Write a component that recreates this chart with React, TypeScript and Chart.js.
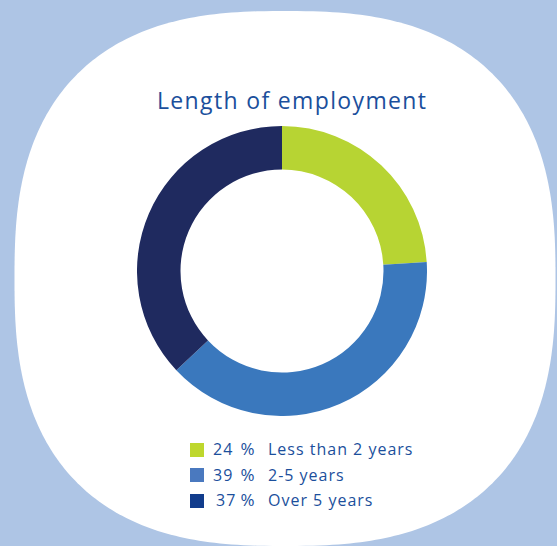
import React, { useEffect, useRef } from "react";
import { Chart, registerables } from "chart.js";

Chart.register(...registerables);

const TITLE = "Length of employment";
const categories = ["Less than 2 years", "2-5 years", "Over 5 years"];
const values = [24, 39, 37];
const percentNumbers = ["24", "39", "37"];
const sliceColors = ["#b7d433", "#3a78bd", "#1f2a5f"];
const legendColors = ["#bed72d", "#4a79bf", "#113c8c"];

const BG = "#aec5e5";
const TEXT = "#1b4f9c";
const FONT = "'Open Sans', 'Noto Sans', sans-serif";

function blobPath(cx: number, cy: number, a: number, b: number, n: number) {
  const pts: string[] = [];
  const N = 360;
  for (let i = 0; i < N; i++) {
    const t = (i / N) * Math.PI * 2;
    const c = Math.cos(t);
    const s = Math.sin(t);
    const x = cx + a * Math.sign(c) * Math.pow(Math.abs(c), 2 / n);
    const y = cy + b * Math.sign(s) * Math.pow(Math.abs(s), 2 / n);
    pts.push(`${x.toFixed(2)},${y.toFixed(2)}`);
  }
  return "M" + pts.join("L") + "Z";
}

export default function App() {
  const ref = useRef<HTMLCanvasElement | null>(null);

  useEffect(() => {
    if (!ref.current) return;
    const chart = new Chart(ref.current, {
      type: "doughnut",
      data: {
        labels: categories,
        datasets: [
          {
            data: values,
            backgroundColor: sliceColors,
            borderWidth: 0,
            hoverOffset: 0,
          },
        ],
      },
      options: {
        animation: false,
        responsive: false,
        maintainAspectRatio: false,
        cutout: "70%",
        rotation: 0,
        layout: { padding: 0 },
        plugins: {
          legend: { display: false },
          title: { display: false },
          tooltip: { enabled: false },
        },
        events: [],
      },
    });
    return () => chart.destroy();
  }, []);

  const rowTops = [439.1, 464.6, 490.1];
  const squareTops = [442.7, 468.3, 494];
  const numLeft = [213, 213, 216];

  const textStyle: React.CSSProperties = {
    position: "absolute",
    fontSize: 16,
    lineHeight: "20px",
    color: TEXT,
    whiteSpace: "nowrap",
    letterSpacing: "1px",
  };

  return (
    <div
      style={{
        position: "fixed",
        left: 0,
        top: 0,
        width: 557,
        height: 546,
        background: BG,
        overflow: "hidden",
        fontFamily: FONT,
      }}
    >
      <svg
        width={557}
        height={546}
        style={{ position: "absolute", left: 0, top: 0 }}
      >
        <path d={blobPath(285, 278.5, 270.5, 267.5, 2.6)} fill="#ffffff" />
      </svg>
      <div
        style={{
          position: "absolute",
          left: 157,
          top: 85.4,
          fontSize: 23,
          lineHeight: "30px",
          color: TEXT,
          whiteSpace: "nowrap",
          letterSpacing: "1.35px",
        }}
      >
        {TITLE}
      </div>
      <canvas
        ref={ref}
        width={290}
        height={290}
        style={{ position: "absolute", left: 137.3, top: 126, width: 290, height: 290 }}
      />
      {categories.map((c, i) => (
        <React.Fragment key={c}>
          <div
            style={{
              position: "absolute",
              left: 190,
              top: squareTops[i],
              width: 14,
              height: 14,
              background: legendColors[i],
            }}
          />
          <div style={{ ...textStyle, left: numLeft[i], top: rowTops[i] }}>
            {percentNumbers[i]}
          </div>
          <div
            style={{
              ...textStyle,
              left: 240.5,
              top: rowTops[i],
              fontSize: 17,
              letterSpacing: 0,
            }}
          >
            %
          </div>
          <div style={{ ...textStyle, left: 268, top: rowTops[i] }}>{c}</div>
        </React.Fragment>
      ))}
    </div>
  );
}
